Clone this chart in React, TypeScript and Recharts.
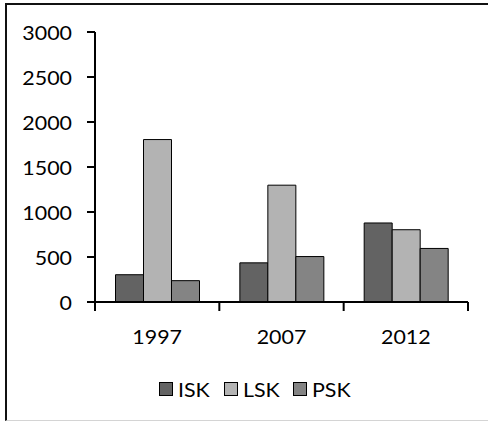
import { BarChart, Bar, XAxis, YAxis } from 'recharts'

const years = ['1997', '2007', '2012']
const isk = [303, 435, 878]
const lsk = [1805, 1298, 803]
const psk = [237, 505, 595]
const yTicks = [0, 500, 1000, 1500, 2000, 2500, 3000]

const series = [
  { key: 'ISK', color: '#636363' },
  { key: 'LSK', color: '#b3b3b3' },
  { key: 'PSK', color: '#848484' },
]

const data = years.map((y, i) => ({ year: y, ISK: isk[i], LSK: lsk[i], PSK: psk[i] }))

const W = 488
const H = 423
const M = { top: 32, right: 20, bottom: 61, left: 0 }
const Y_W = 95
const BAND = (W - M.left - Y_W - M.right) / years.length
const AXIS_Y = H - M.bottom - 60
const FONT = 'Lato, "Open Sans", sans-serif'
const FS = 20
const SX = 1.07

// y ticks sit outside the axis, text right-aligned a bit further left
function YTick(props: any) {
  const { y, payload } = props
  return (
    <g>
      <path d={`M${Y_W - 8},${y}H${Y_W}`} stroke="#000" strokeWidth={2} />
      <text
        transform={`translate(${Y_W - 23},${y}) scale(${SX},1)`}
        textAnchor="end"
        dominantBaseline="central"
        fontFamily={FONT}
        fontSize={FS}
        fill="#000"
      >
        {payload.value}
      </text>
    </g>
  )
}

// Excel style: tick marks between categories, not under them
function XTick(props: any) {
  const { x, payload, index } = props
  const left = x - BAND / 2
  const right = x + BAND / 2
  return (
    <g>
      <path d={`M${left},${AXIS_Y}V${AXIS_Y + 9}`} stroke="#000" strokeWidth={2} />
      {index === years.length - 1 && (
        <path d={`M${right},${AXIS_Y}V${AXIS_Y + 9}`} stroke="#000" strokeWidth={2} />
      )}
      <text
        transform={`translate(${x},${AXIS_Y + 34}) scale(${SX},1)`}
        textAnchor="middle"
        dominantBaseline="central"
        fontFamily={FONT}
        fontSize={FS}
        fill="#000"
      >
        {payload.value}
      </text>
    </g>
  )
}

export default function App() {
  return (
    <div style={{ position: 'absolute', left: 0, top: 0, width: W, height: H, background: '#fff' }}>
      <BarChart
        width={W}
        height={H}
        data={data}
        margin={M}
        barCategoryGap="16.5%"
        barGap={0}
      >
        <XAxis
          dataKey="year"
          height={60}
          axisLine={{ stroke: '#000', strokeWidth: 2 }}
          tickLine={false}
          tick={<XTick />}
          interval={0}
        />
        <YAxis
          width={Y_W}
          domain={[0, 3000]}
          ticks={yTicks}
          interval={0}
          axisLine={{ stroke: '#000', strokeWidth: 2 }}
          tickLine={false}
          tick={<YTick />}
        />
        {series.map((s) => (
          <Bar
            key={s.key}
            dataKey={s.key}
            fill={s.color}
            stroke="#000"
            strokeWidth={1}
            isAnimationActive={false}
          />
        ))}
      </BarChart>
      <div
        style={{
          position: 'absolute',
          left: 159,
          top: 377,
          display: 'flex',
          alignItems: 'center',
          fontFamily: FONT,
          fontSize: FS,
          color: '#000',
        }}
      >
        {series.map((s) => (
          <div key={s.key} style={{ display: 'flex', alignItems: 'center', marginRight: 16 }}>
            <span
              style={{
                display: 'inline-block',
                width: 12,
                height: 12,
                background: s.color,
                border: '1px solid #000',
                marginRight: 5,
              }}
            />
            <span style={{ display: 'inline-block', transform: `scaleX(${SX})`, transformOrigin: 'left center' }}>
              {s.key}
            </span>
          </div>
        ))}
      </div>
      <div
        style={{
          position: 'absolute',
          left: 5,
          top: 3,
          width: W - 5,
          height: 418,
          borderTop: '2px solid #111',
          borderLeft: '2px solid #111',
          borderBottom: '1px solid #d4d4d4',
          boxSizing: 'border-box',
          pointerEvents: 'none',
        }}
      />
    </div>
  )
}
